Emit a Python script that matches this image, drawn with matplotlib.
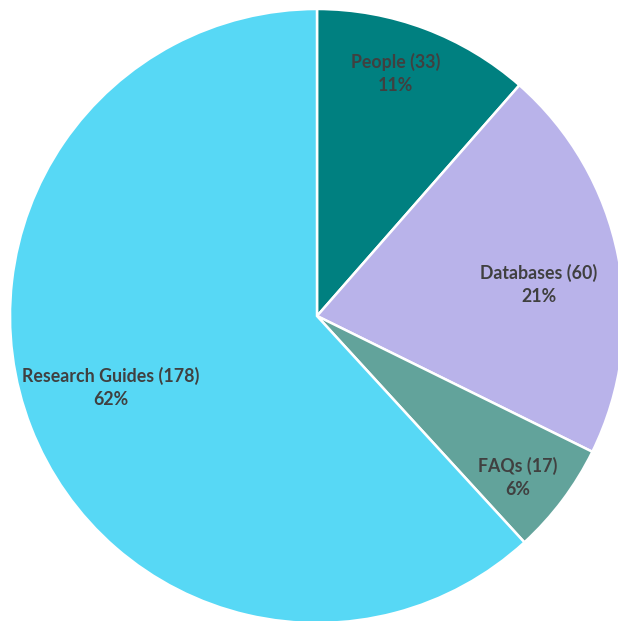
import numpy as np
import matplotlib.pyplot as plt

# data
categories = ["People", "Databases", "FAQs", "Research Guides"]
counts = [33, 60, 17, 178]
colors = ["#008080", "#B9B3EA", "#62A39B", "#57D8F5"]

# label placement (radius, angle tweak in deg) - layout only
lab_r = [0.83, 0.73, 0.84, 0.71]
lab_da = [2.6, -3.2, -1.9, -2.1]

plt.rcParams['font.family'] = ['Lato', 'DejaVu Sans']

fig = plt.figure(figsize=(6.18, 6.21), dpi=100)
ax = fig.add_axes([0, 0, 1, 1])

wedges, _ = ax.pie(counts, colors=colors, startangle=90, counterclock=False,
                   radius=1.0, wedgeprops=dict(edgecolor="white", linewidth=1.8))

total = sum(counts)
cum = np.cumsum([0] + counts)
for i, (name, c) in enumerate(zip(categories, counts)):
    mid = 90 - (cum[i] + c / 2) / total * 360 + lab_da[i]
    x = lab_r[i] * np.cos(np.radians(mid))
    y = lab_r[i] * np.sin(np.radians(mid))
    pct = round(100 * c / total)
    ax.text(x, y, f"{name} ({c})\n{pct}%", ha="center", va="center",
            fontsize=12.8, fontweight="bold", color="#404040", linespacing=1.4)

ax.set_xlim(-317 / 307, (618 - 317) / 307)
ax.set_ylim(-(621 - 316) / 307, 316 / 307)
ax.set_aspect("auto")
ax.axis("off")

fig.savefig("out.png", dpi=100)
